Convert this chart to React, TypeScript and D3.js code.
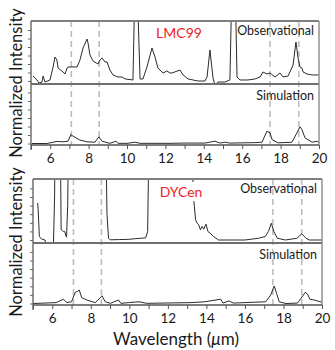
import * as d3 from 'd3';
import React, { useRef, useEffect } from 'react';

const W = 335;
const H = 350;
const FONT = 'Lato, "Open Sans", sans-serif';

// [wavelength, normalized intensity] pairs
const lmc99Obs = [
  [5.1, 0.59], [5.31, 0.12], [5.42, -0.24], [5.57, -0.12], [5.63, 0.59], [5.73, -0.12],
  [5.99, 0.12], [6.15, 1.65], [6.25, 2.82], [6.35, 2.47], [6.41, 1.53], [6.67, 1.06],
  [6.77, 0.82], [6.88, 1.53], [6.93, 1.65], [7.14, 1.65], [7.4, 1.65], [7.55, 2.47],
  [7.71, 3.88], [7.92, 4.94], [7.97, 4.47], [8.07, 3.06], [8.23, 2.35], [8.49, 2.0],
  [8.59, 2.47], [8.7, 2.71], [8.85, 2.24], [8.96, 2.24], [9.11, 1.29], [9.27, 0.71],
  [9.53, 0.47], [9.74, 0.47], [9.9, 0.24], [10.31, 0.12], [10.42, 12], [10.52, 12],
  [10.68, 0.24], [10.83, 0.24], [11.04, 1.65], [11.3, 3.88], [11.46, 2.82], [11.61, 1.53],
  [11.88, 0.94], [12.08, 1.18], [12.24, 0.94], [12.34, 0.94], [12.76, 1.29], [12.92, 0.71],
  [13.18, 0.24], [13.7, 0], [14.06, 0], [14.17, 0.47], [14.32, 3.65], [14.48, 0.35],
  [14.58, -0.47], [14.74, -0.12], [15.1, -0.12], [15.36, 0.12], [15.47, 12], [15.63, 12],
  [15.73, 0.47], [15.89, 0.12], [16.3, 0.12], [16.67, 0.24], [16.93, 0.47], [17.08, 1.06],
  [17.29, 0.82], [17.45, 0.94], [17.71, 0.47], [17.97, 0.94], [18.13, 0.47], [18.39, 0.59],
  [18.65, 1.88], [18.8, 4.59], [18.91, 2.71], [19.01, 1.65], [19.11, 1.53], [19.17, 1.06],
  [19.38, 0.82], [19.64, 0.71], [19.9, 0.71], [20.0, 0.71]
];

const lmc99Sim = [
  [5.05, 0], [5.83, 0], [6.35, 0.24], [6.67, 0.2], [6.93, 0.27], [7.08, 1.06], [7.19, 0.86],
  [7.55, 0.4], [7.92, 0.2], [8.33, 0.15], [8.54, 0.78], [8.7, 0.27], [9.11, 0.02], [9.43, 0.27],
  [9.53, 0.02], [10.0, 0.02], [10.42, 0.15], [10.68, 0.02], [12.24, 0.02], [13.02, 0.05],
  [14.06, 0.05], [14.58, 0.27], [14.84, 0.05], [15.1, 0.15], [15.36, 0.05], [16.67, 0.1],
  [17.03, 0.15], [17.29, 1.45], [17.45, 1.25], [17.55, 0.47], [17.86, 0.08], [18.59, 0.15],
  [18.85, 1.25], [19.01, 1.96], [19.11, 1.65], [19.27, 0.67], [19.64, 0.15], [19.9, 0.27],
  [20.0, 0.05]
];

const dycenObs = [
  [5.24, 4.3], [5.27, 3.5], [5.33, 0.4], [5.45, 0.1], [5.62, 0], [5.7, -0.56], [6.06, -0.56],
  [6.12, 5], [6.15, 12], [6.42, 12], [6.46, 1.19], [6.52, 1.1], [6.58, 0.99], [6.64, 1.0],
  [6.7, 0.56], [6.74, 0.33], [6.8, 4], [6.84, 12], [8.78, 12], [8.84, 3], [8.92, 0.2],
  [9.0, 0.02], [9.5, 0.05], [10.0, 0.08], [10.3, 0.15], [10.6, 0.2], [10.85, 0.25], [10.95, 1],
  [11.02, 12], [13.2, 12], [13.35, 4.48], [13.44, 2.35], [13.52, 1.95], [13.6, 1.77],
  [13.69, 1.19], [13.78, 1.57], [13.86, 1.26], [13.98, 1.84], [14.08, 0.99], [14.2, 0.79],
  [14.37, 0.41], [14.63, 0], [16.0, 0], [16.7, 0.2], [17.05, 0.4], [17.22, 0.99], [17.37, 1.95],
  [17.5, 0.99], [17.68, 0.2], [18.1, 0], [18.7, 0.2], [18.95, 0.72], [19.17, 0.2], [19.34, 0],
  [20.0, 0]
];

const dycenSim = [
  [5.0, 0], [6.2, 0.1], [6.58, 0.5], [6.75, 0.1], [7.0, 0.2], [7.19, 1.3], [7.3, 1.4], [7.4, 1.57],
  [7.53, 0.67], [7.8, 0.4], [8.23, 0.1], [8.49, 0.67], [8.58, 0.9], [8.75, 0.2], [9.01, 0.02],
  [9.44, 0.4], [9.56, 0.02], [9.96, 0.1], [10.5, 0.2], [10.9, 0.02], [13.2, 0.1], [13.92, 0.2],
  [14.74, 0.5], [14.86, 0.05], [15.17, 0.3], [15.4, 0.05], [17.08, 0.2], [17.34, 1.0],
  [17.52, 2.04], [17.64, 1.2], [17.78, 0.2], [18.13, 0], [18.73, 0.05], [18.91, 0.6],
  [19.13, 1.3], [19.25, 1.1], [19.37, 0.5], [19.6, 0.4], [20.0, 0.15]
];

const dashedLines = [7.1, 8.55, 17.45, 18.95];
const xTickLabels = [6, 8, 10, 12, 14, 16, 18, 20];

const charts = [
  { id: 'a', name: 'LMC99', obs: lmc99Obs, sim: lmc99Sim, x0: 31, x1: 319, top: 21, mid: 84, bottom: 145, step: 8.5, nameX: 179, nameY: 33, box: false },
  { id: 'b', name: 'DYCen', obs: dycenObs, sim: dycenSim, x0: 33, x1: 322, top: 179, mid: 243, bottom: 305, step: 8.6, nameX: 181, nameY: 192, box: true }
];

const App = () => {
  const ref = useRef(null);

  useEffect(() => {
    const svg = d3.select(ref.current);
    svg.selectAll('*').remove();

    charts.forEach(c => {
      const g = svg.append('g');
      const x = d3.scaleLinear().domain([5, 20]).range([c.x0, c.x1]);
      const obsBase = c.mid - 3;
      const simBase = c.bottom - 1.5;
      const yObs = d3.scaleLinear().domain([0, 1]).range([obsBase, obsBase - c.step]);
      const ySim = d3.scaleLinear().domain([0, 1]).range([simBase, simBase - c.step]);

      // dashed guides
      g.selectAll('line.guide')
        .data(dashedLines)
        .enter().append('line')
        .attr('x1', d => x(d)).attr('x2', d => x(d))
        .attr('y1', c.top).attr('y2', c.bottom)
        .attr('stroke', '#bdbdbd')
        .attr('stroke-width', 1.6)
        .attr('stroke-dasharray', '6,4');

      // clips
      const defs = g.append('defs');
      defs.append('clipPath').attr('id', 'clipObs' + c.id)
        .append('rect').attr('x', c.x0).attr('y', c.top).attr('width', c.x1 - c.x0).attr('height', c.mid - c.top);
      defs.append('clipPath').attr('id', 'clipSim' + c.id)
        .append('rect').attr('x', c.x0).attr('y', c.mid).attr('width', c.x1 - c.x0).attr('height', c.bottom - c.mid);

      const lineObs = d3.line().x(d => x(d[0])).y(d => yObs(d[1]));
      const lineSim = d3.line().x(d => x(d[0])).y(d => ySim(d[1]));

      g.append('path')
        .attr('d', lineObs(c.obs))
        .attr('clip-path', `url(#clipObs${c.id})`)
        .attr('fill', 'none').attr('stroke', '#2b2b2b').attr('stroke-width', 1);
      g.append('path')
        .attr('d', lineSim(c.sim))
        .attr('clip-path', `url(#clipSim${c.id})`)
        .attr('fill', 'none').attr('stroke', '#2b2b2b').attr('stroke-width', 1);

      // frame
      g.append('line').attr('x1', c.x0).attr('x2', c.x1).attr('y1', c.top).attr('y2', c.top)
        .attr('stroke', '#7f7f7f').attr('stroke-width', 2.2);
      g.append('line').attr('x1', c.x0).attr('x2', c.x1).attr('y1', c.mid).attr('y2', c.mid)
        .attr('stroke', '#6f6f6f').attr('stroke-width', 1.8);
      g.append('line').attr('x1', c.x1).attr('x2', c.x1).attr('y1', c.top).attr('y2', c.bottom)
        .attr('stroke', '#8a8a8a').attr('stroke-width', 1.4);

      // left axes with minor ticks
      const ticksV = d3.range(0, 7);
      [yObs, ySim].forEach(y => {
        g.append('g')
          .attr('transform', `translate(${c.x0},0)`)
          .call(d3.axisLeft(y).tickValues(ticksV).tickSize(3).tickFormat(() => ''))
          .call(a => a.select('.domain').remove())
          .call(a => a.selectAll('line').attr('stroke', '#666'));
      });
      g.append('line').attr('x1', c.x0).attr('x2', c.x0).attr('y1', c.top).attr('y2', c.bottom + 5)
        .attr('stroke', '#666').attr('stroke-width', 1.4);

      // bottom axis
      const ax = g.append('g')
        .attr('transform', `translate(0,${c.bottom})`)
        .call(d3.axisBottom(x).tickValues(d3.range(5, 21)).tickSize(4)
          .tickFormat(d => (xTickLabels.includes(d) ? String(d) : '')));
      ax.select('.domain').remove();
      ax.selectAll('line').attr('stroke', '#555');
      ax.selectAll('text').attr('font-family', FONT).attr('font-size', 13.5).attr('fill', '#1a1a1a').attr('dy', '0.85em');
      g.append('line').attr('x1', c.x0).attr('x2', c.x1).attr('y1', c.bottom).attr('y2', c.bottom)
        .attr('stroke', '#555').attr('stroke-width', 1.4);

      // panel labels
      if (c.box) {
        g.append('rect').attr('x', c.nameX - 21).attr('y', c.nameY - 10).attr('width', 42).attr('height', 19).attr('fill', '#fff');
      }
      g.append('text').attr('x', c.nameX).attr('y', c.nameY).attr('dy', '0.35em')
        .attr('text-anchor', 'middle').attr('font-family', FONT).attr('font-size', 14)
        .attr('fill', '#ee1c25').text(c.name);
      g.append('text').attr('x', c.x1 - 5).attr('y', c.top + 10).attr('dy', '0.35em')
        .attr('text-anchor', 'end').attr('font-family', FONT).attr('font-size', 12.5)
        .attr('fill', '#1a1a1a').text('Observational');
      g.append('text').attr('x', c.x1 - 5).attr('y', c.mid + 12).attr('dy', '0.35em')
        .attr('text-anchor', 'end').attr('font-family', FONT).attr('font-size', 12.5)
        .attr('fill', '#1a1a1a').text('Simulation');

      g.append('text')
        .attr('transform', `translate(16,${(c.top + c.bottom) / 2}) rotate(-90)`)
        .attr('dy', '0.35em').attr('text-anchor', 'middle')
        .attr('font-family', FONT).attr('font-size', 16.5).attr('fill', '#1a1a1a')
        .text('Normalized Intensity');
    });

    const xl = svg.append('text').attr('x', 176).attr('y', 339).attr('dy', '0.35em')
      .attr('text-anchor', 'middle').attr('font-family', FONT).attr('font-size', 17).attr('fill', '#1a1a1a');
    xl.append('tspan').text('Wavelength (');
    xl.append('tspan').attr('font-style', 'italic').text('\u03bc');
    xl.append('tspan').text('m)');
  }, []);

  return (
    <svg ref={ref} width={W} height={H}
      style={{ position: 'absolute', left: 0, top: 0, background: '#fff' }} />
  );
};

export default App;
